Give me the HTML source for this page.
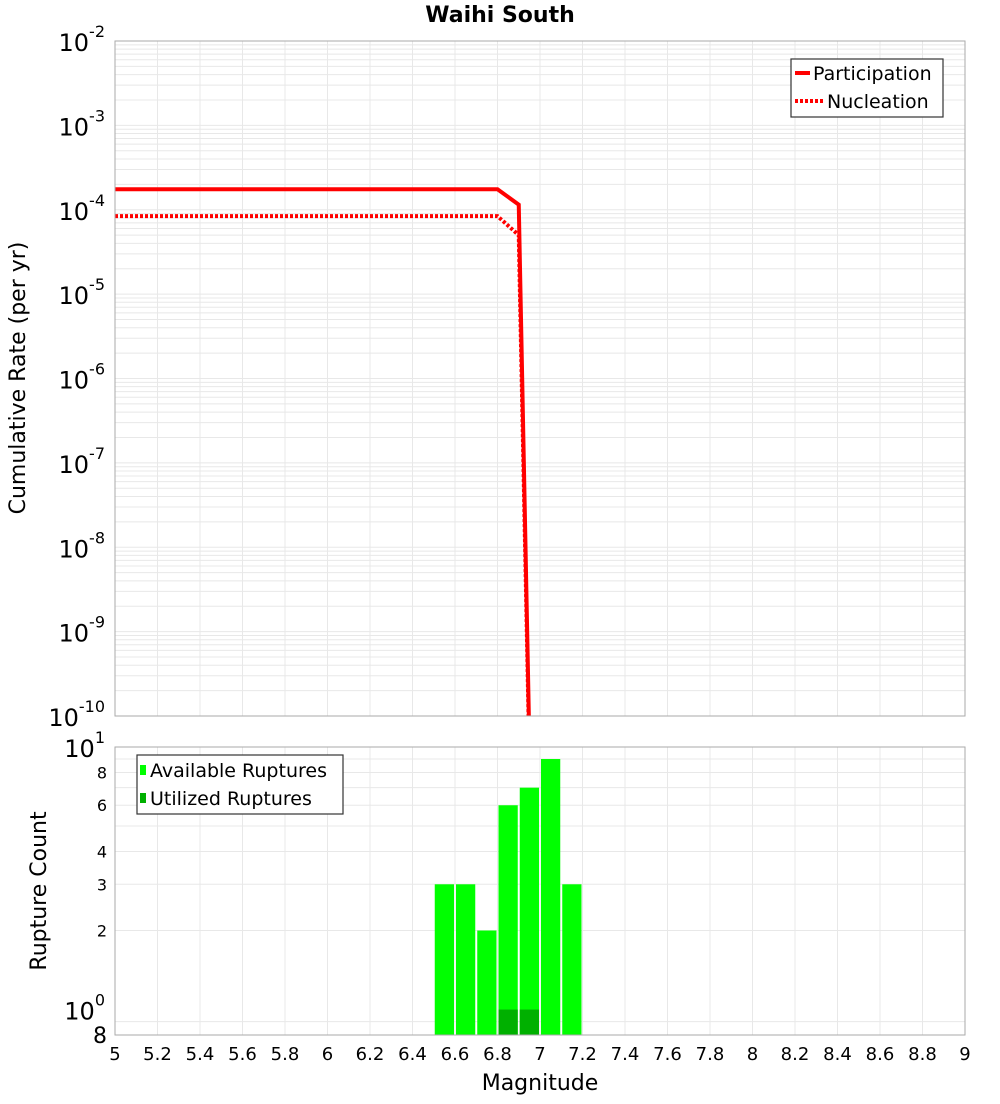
<!DOCTYPE html>
<html><head><meta charset="utf-8">
<style>
body{margin:0;background:#fff;font-family:"DejaVu Sans","Liberation Sans",sans-serif;}
svg text{font-family:"DejaVu Sans","Liberation Sans",sans-serif;}
</style></head>
<body>
<svg id="chart" width="1000" height="1100" xmlns="http://www.w3.org/2000/svg">
<text x="500" y="22" text-anchor="middle" font-size="22" font-weight="bold">Waihi South</text>
<g id="gtop"></g>
<g id="gbot"></g>
<text transform="translate(25,378) rotate(-90)" text-anchor="middle" font-size="22">Cumulative Rate (per yr)</text>
<text transform="translate(46,891) rotate(-90)" text-anchor="middle" font-size="22">Rupture Count</text>
<text x="540" y="1090" text-anchor="middle" font-size="22">Magnitude</text>
<g id="legends"></g>
</svg>
<script>
const magCats=[6.55,6.65,6.75,6.85,6.95,7.05,7.15];
const availCounts=[3,3,2,6,7,9,3];
const utilCounts=[0,0,0,1,1,0,0];
const partMags=[5.0,6.8,6.9,7.0];
const partRates=[1.75e-4,1.75e-4,1.15e-4,2e-17];
const nuclMags=[5.0,6.8,6.9,7.0];
const nuclRates=[8.4e-5,8.4e-5,5e-5,2e-17];
const xTicks=[5,5.2,5.4,5.6,5.8,6,6.2,6.4,6.6,6.8,7,7.2,7.4,7.6,7.8,8,8.2,8.4,8.6,8.8,9];
const rateExps=[-2,-3,-4,-5,-6,-7,-8,-9,-10];
const countTicks=[2,3,4,6,8];

const NS="http://www.w3.org/2000/svg";
const L=115,R=965,T1=41,B1=716,T2=747,B2=1035;
const xs=m=>L+(m-5)/4*(R-L);
const yR=v=>T1+(-2-Math.log10(v))/8*(B1-T1);
const lo=Math.log10(0.8);
const yC=v=>T2+(1-Math.log10(v))/(1-lo)*(B2-T2);
function mk(p,tag,a){const e=document.createElementNS(NS,tag);for(const k in a)e.setAttribute(k,a[k]);p.appendChild(e);return e;}
const gTop=document.getElementById('gtop'),gBot=document.getElementById('gbot');

for(let d=-10;d<-2;d++)for(let k=1;k<10;k++){const v=k*Math.pow(10,d);const gl=mk(gTop,'line',{x1:L,x2:R,y1:yR(v),y2:yR(v),stroke:'#e8e8e8','stroke-width':1});

}
xTicks.forEach(t=>{const g=mk(gTop,'line',{x1:xs(t),x2:xs(t),y1:T1,y2:B1,stroke:'#e8e8e8'});


const g2=mk(gBot,'line',{x1:xs(t),x2:xs(t),y1:T2,y2:B2,stroke:'#e8e8e8'});

});
[0.9,2,3,4,5,6,7,8,9].forEach(v=>{const g=mk(gBot,'line',{x1:L,x2:R,y1:yC(v),y2:yC(v),stroke:'#e8e8e8'});

});

const defs=mk(gTop,'defs',{});const cp=mk(defs,'clipPath',{id:'c1'});mk(cp,'rect',{x:L,y:T1,width:R-L,height:B1-T1});
function drawLine(ms,vs,dash,name){const pts=ms.map((m,i)=>xs(m)+','+yR(vs[i])).join(' ');
const p=mk(gTop,'polyline',{points:pts,fill:'none',stroke:'red','stroke-width':4,'clip-path':'url(#c1)'});
if(dash)p.setAttribute('stroke-dasharray','3,2');

}
drawLine(nuclMags,nuclRates,true,'nucleation-line');
drawLine(partMags,partRates,false,'participation-line');
mk(gTop,'rect',{x:L,y:T1,width:R-L,height:B1-T1,fill:'none',stroke:'#aaa'});
rateExps.forEach(e=>{const t=mk(gTop,'text',{x:L-10,y:yR(Math.pow(10,e))+10,'text-anchor':'end','font-size':24});


t.innerHTML='10<tspan dy="-14" font-size="16">'+e+'</tspan>';});

magCats.forEach((m,i)=>{const x0=xs(m-0.05)+1,w=xs(m+0.05)-xs(m-0.05)-2;
const b=mk(gBot,'rect',{x:x0,y:yC(availCounts[i]),width:w,height:B2-yC(availCounts[i]),fill:'#00ff00'});


if(utilCounts[i]>0){const u=mk(gBot,'rect',{x:x0,y:yC(utilCounts[i]),width:w,height:B2-yC(utilCounts[i]),fill:'#00b000'});

}});
mk(gBot,'rect',{x:L,y:T2,width:R-L,height:B2-T2,fill:'none',stroke:'#aaa'});
countTicks.forEach(v=>{const t=mk(gBot,'text',{x:L-8,y:yC(v)+6,'text-anchor':'end','font-size':16});


t.textContent=v;});
[[1,'0'],[10,'1']].forEach(([v,e])=>{const t=mk(gBot,'text',{x:L-10,y:yC(v)+10,'text-anchor':'end','font-size':24});


t.innerHTML='10<tspan dy="-14" font-size="16">'+e+'</tspan>';});
const t8=mk(gBot,'text',{x:L-8,y:B2+8,'text-anchor':'end','font-size':22});


t8.textContent='8';
xTicks.forEach(t=>{const e=mk(gBot,'text',{x:xs(t),y:1060,'text-anchor':'middle','font-size':18});


e.textContent=t;});
</script>
<script>
(function(){
const NS2="http://www.w3.org/2000/svg";
const lg=document.getElementById('legends');
lg.innerHTML='<g><rect x="791" y="59" width="152" height="58" fill="#fff" stroke="#333" stroke-width="1.2"/><line x1="795" y1="73" x2="810" y2="73" stroke="red" stroke-width="4"/><text x="813" y="80" font-size="19">Participation</text><line x1="795" y1="101" x2="823" y2="101" stroke="red" stroke-width="4" stroke-dasharray="3,2"/><text x="827" y="108" font-size="19">Nucleation</text></g><g><rect x="137" y="755" width="206" height="59" fill="#fff" stroke="#333" stroke-width="1.2"/><rect x="140" y="765" width="6" height="10" fill="#00ff00"/><text x="150" y="777" font-size="19">Available Ruptures</text><rect x="140" y="793" width="6" height="10" fill="#00b000"/><text x="150" y="805" font-size="19">Utilized Ruptures</text></g>';
})();
</script>
</body></html>
